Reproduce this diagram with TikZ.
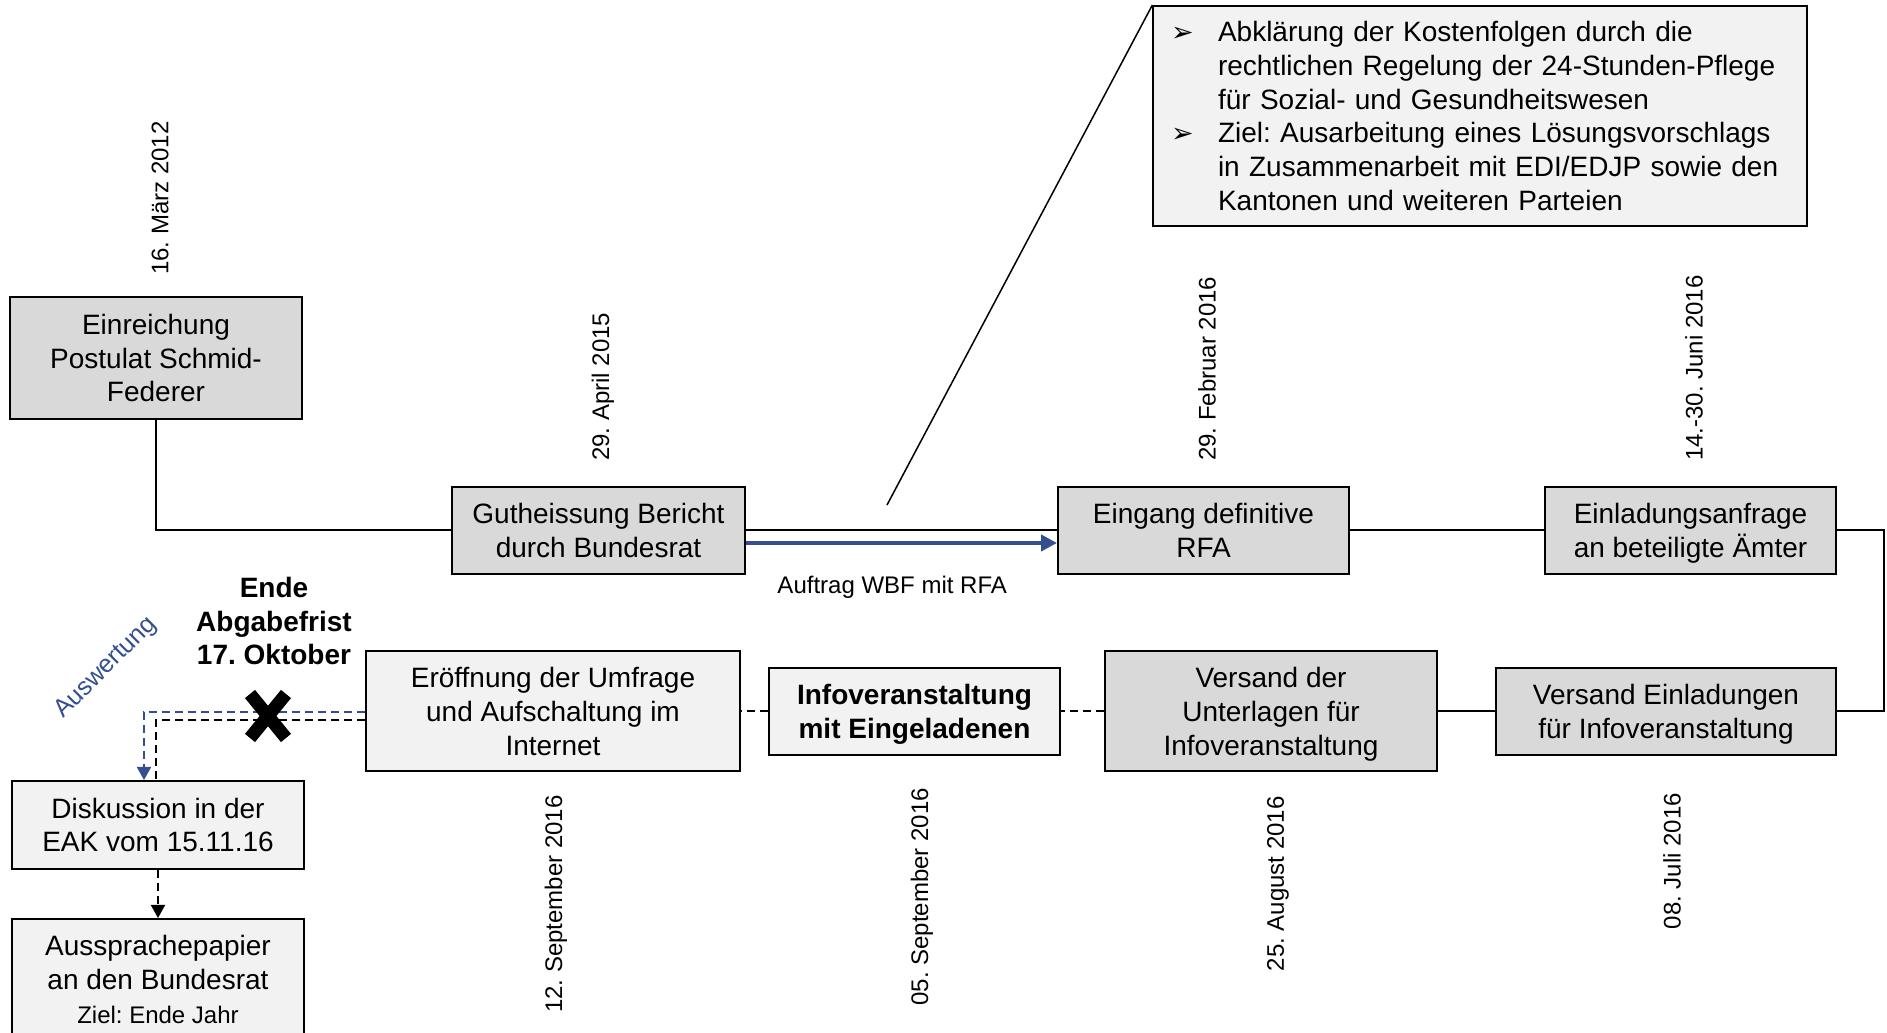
\documentclass[tikz,border=0pt]{standalone}
\usepackage{fontspec}
\setmainfont{Liberation Sans}
\newfontfamily\symbfont{DejaVu Sans}
\usetikzlibrary{arrows.meta}
\definecolor{boxgrau}{HTML}{D9D9D9}
\definecolor{boxhell}{HTML}{F2F2F2}
\definecolor{blau}{RGB}{52,78,146}
\frenchspacing
\newcommand{\gross}{\fontsize{28}{33.7}\selectfont}
\newcommand{\klein}{\fontsize{24}{28}\selectfont}
\newcommand{\pkt}{\makebox[47pt][l]{\symbfont\fontsize{27}{27}\selectfont ➢}}
\newcommand{\einr}{\hspace*{47pt}}
\begin{document}
\begin{tikzpicture}[x=1pt,y=1pt,inner sep=0pt,line width=2pt,
schritt/.style={draw,rectangle,fill=boxgrau,align=center,font=\gross,line width=2pt,text depth=-4pt},
schritthell/.style={schritt,fill=boxhell},
kasten/.style={draw,rectangle,fill=boxhell,font=\gross,line width=1.5pt,align=left},
datum/.style={rotate=90,font=\klein},
strich/.style={dash pattern=on 8pt off 5pt}]
\useasboundingbox (0,0) rectangle (1887,1033);
\draw (156,675) node[schritt,minimum width=292pt,minimum height=122pt] (ein) {Einreichung\\Postulat Schmid-\\Federer};
\draw (598.5,502.5) node[schritt,minimum width=293pt,minimum height=87pt] (gut) {Gutheissung Bericht\\durch Bundesrat};
\draw (1203.5,502.5) node[schritt,minimum width=291pt,minimum height=87pt] (eing) {Eingang definitive\\RFA};
\draw (1690.5,502.5) node[schritt,minimum width=291pt,minimum height=87pt] (einl) {Einladungsanfrage\\an beteiligte Ämter};
\draw (1666,321.5) node[schritt,minimum width=340pt,minimum height=87pt] (vers) {Versand Einladungen\\für Infoveranstaltung};
\draw (1271,321.5) node[schritt,minimum width=332pt,minimum height=120pt] (unt) {Versand der\\Unterlagen für\\Infoveranstaltung};
\draw (914.5,321.5) node[schritthell,minimum width=291pt,minimum height=87pt,font=\gross\bfseries] (info) {Infoveranstaltung\\mit Eingeladenen};
\draw (553,321.5) node[schritthell,minimum width=374pt,minimum height=120pt] (ero) {Eröffnung der Umfrage\\und Aufschaltung im\\Internet};
\draw (158,208) node[schritthell,minimum width=292pt,minimum height=88pt] (disk) {Diskussion in der\\EAK vom 15.11.16};
\draw (158,53.5) node[schritthell,minimum width=292pt,minimum height=121pt] (auss) {Aussprachepapier\\an den Bundesrat\\{\klein Ziel: Ende Jahr}};
\draw (1480,917) node[kasten,minimum height=220pt,text width=618pt,inner xsep=18pt] (kosten) {\pkt Abklärung der Kostenfolgen durch die\\
\einr rechtlichen Regelung der 24-Stunden-Pflege\\
\einr für Sozial- und Gesundheitswesen\\
\pkt Ziel: Ausarbeitung eines Lösungsvorschlags\\
\einr in Zusammenarbeit mit EDI/EDJP sowie den\\
\einr Kantonen und weiteren Parteien};

\node[datum,anchor=west] (dein) at ([xshift=4pt,yshift=20pt]ein.north) {16. März 2012};
\node[datum,anchor=west] (dgut) at ([xshift=4.5pt,yshift=24pt]gut.north) {29. April 2015};
\node[datum,anchor=west] (deing) at ([xshift=3.5pt,yshift=24pt]eing.north) {29. Februar 2016};
\node[datum,anchor=west] (deinl) at ([xshift=3.5pt,yshift=24pt]einl.north) {14.-30. Juni 2016};
\node[datum,anchor=east] (dvers) at ([xshift=6pt,yshift=-36pt]vers.south) {08. Juli 2016};
\node[datum,anchor=east] (dunt) at ([xshift=7pt,yshift=-23pt]unt.south) {25. August 2016};
\node[datum,anchor=east] (dinfo) at ([xshift=7.5pt,yshift=-31pt]info.south) {05. September 2016};
\node[datum,anchor=east] (dero) at ([xshift=3pt,yshift=-22pt]ero.south) {12. September 2016};

\node[font=\gross\bfseries,align=center] (ende) at (274,412) {Ende\\Abgabefrist\\17. Oktober};
\node[rotate=45,font=\fontsize{25}{30}\selectfont,text=blau] (ausw) at (106,365) {Auswertung};

\draw (ein.south) |- (gut.west);
\draw (gut) -- (eing);
\draw[blau,line width=4pt,-{Triangle[length=16pt,width=16pt]}] ([yshift=-12.5pt]gut.east) -- node[pos=.47,below=31pt,font=\klein,text=black] (auftrag) {Auftrag WBF mit RFA} ([yshift=-12.5pt]eing.west);
\draw (eing) -- (einl);
\draw (einl.east) -- ++(47,0) |- (vers.east);
\draw (vers) -- (unt);
\draw[strich] (unt) -- (info);
\draw[strich] (info) -- (ero);
\draw[strich,blau,-{Triangle[length=13pt,width=14pt]}] ([yshift=-1pt]ero.west) -| ([xshift=-14pt]disk.north);
\draw[strich] ([yshift=-9pt]ero.west) -| ([xshift=-2pt]disk.north);
\draw[strich,-{Triangle[length=13pt,width=14pt]}] (disk) -- (auss);
\coordinate (zeiger) at (887,528);
\draw[line width=1.5pt] (zeiger) -- (kosten.north west);
\coordinate (kreuz) at (268,317);
\draw[line width=13pt] ([shift={(-18,-22)}]kreuz) -- ([shift={(18,22)}]kreuz) ([shift={(-18,22)}]kreuz) -- ([shift={(18,-22)}]kreuz);

\end{tikzpicture}
\end{document}
